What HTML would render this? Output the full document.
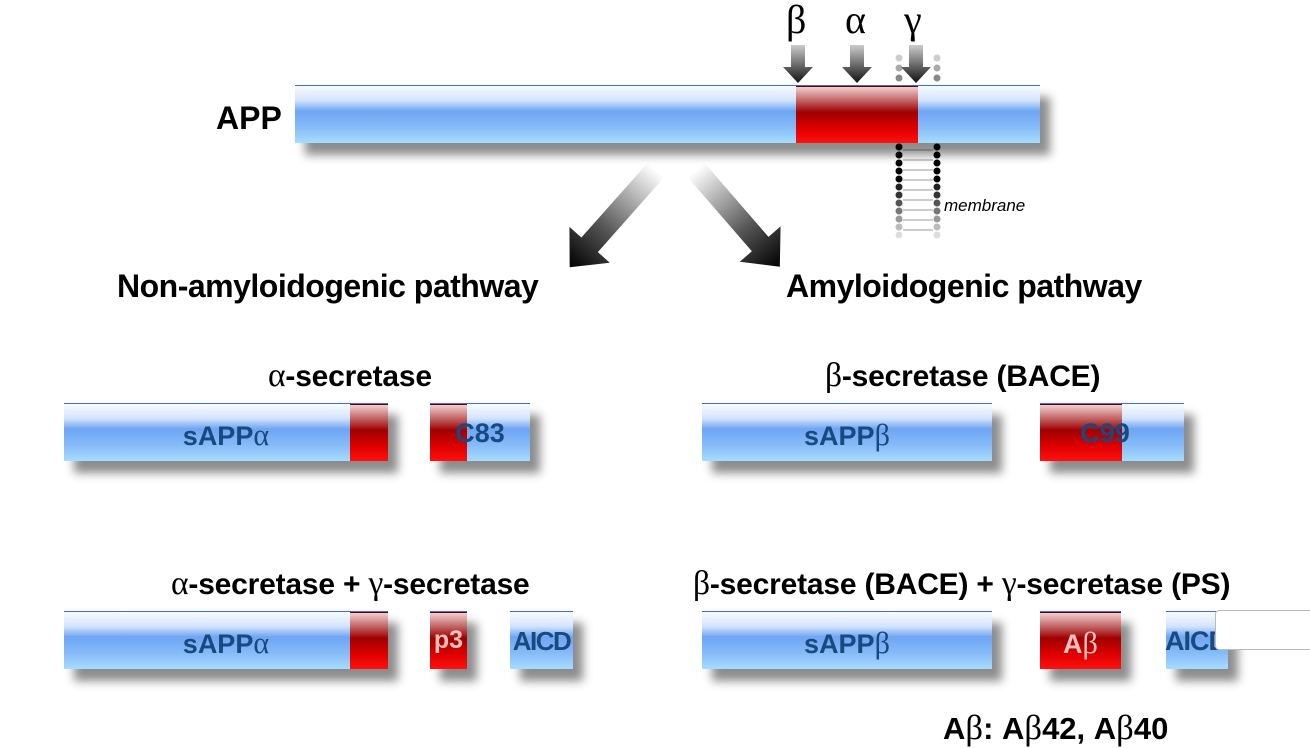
<!DOCTYPE html>
<html><head><meta charset="utf-8"><style>
html,body{margin:0;padding:0;background:#fff;}
body{width:1310px;height:726px;position:relative;overflow:hidden;font-family:"Liberation Sans",sans-serif;}
.t{position:absolute;font-weight:bold;color:#000;white-space:nowrap;}
.g{font-family:"Liberation Serif",serif;font-weight:normal;font-size:1.12em;}
.b{position:absolute;height:58px;box-shadow:10px 12px 9px rgba(0,0,0,.45);
background:linear-gradient(to bottom,#f8fbff 0%,#d4e4fc 25%,#6fa5f2 44%,#84b9f8 70%,#a6dcff 100%);border-top:1px solid #3d6fd8;box-sizing:border-box;}
.r{position:absolute;top:0;bottom:0;background:linear-gradient(to bottom,#f0d0d0 0%,#c06060 25%,#a00000 45%,#e00000 75%,#ff1010 100%);border-top:1px solid #600;}
.lab{position:absolute;left:0;right:0;top:14px;text-align:center;font-weight:bold;font-size:27px;color:#164a80;}
</style></head><body>

<svg width="1310" height="726" style="position:absolute;left:0;top:0">
<defs>
<linearGradient id="ag" x1="0" y1="0" x2="1" y2="0"><stop offset="0" stop-color="#fff"/><stop offset="0.6" stop-color="#555"/><stop offset="1" stop-color="#000"/></linearGradient>
<linearGradient id="dg" x1="0" y1="0" x2="0" y2="1"><stop offset="0" stop-color="#ccc"/><stop offset="1" stop-color="#111"/></linearGradient>
</defs>
<g>
<circle cx="899" cy="58" r="3.5" fill="#ccc"/><circle cx="937" cy="58" r="3.5" fill="#ccc"/>
<circle cx="899" cy="68" r="3.5" fill="#aaa"/><circle cx="937" cy="68" r="3.5" fill="#aaa"/>
<circle cx="899" cy="78" r="3.5" fill="#888"/><circle cx="937" cy="78" r="3.5" fill="#888"/>
<g stroke="#999" stroke-width="1">
<line x1="903" y1="150" x2="933" y2="150"/><line x1="903" y1="160" x2="933" y2="160"/><line x1="903" y1="170" x2="933" y2="170"/><line x1="903" y1="180" x2="933" y2="180"/><line x1="903" y1="190" x2="933" y2="190"/><line x1="903" y1="200" x2="933" y2="200"/><line x1="903" y1="210" x2="933" y2="210"/><line x1="903" y1="220" x2="933" y2="220"/><line x1="903" y1="230" x2="933" y2="230"/>
</g>
<circle cx="899" cy="147" r="3.5"/><circle cx="937" cy="147" r="3.5"/>
<circle cx="899" cy="155" r="3.5"/><circle cx="937" cy="155" r="3.5"/>
<circle cx="899" cy="163" r="3.5"/><circle cx="937" cy="163" r="3.5"/>
<circle cx="899" cy="171" r="3.5"/><circle cx="937" cy="171" r="3.5"/>
<circle cx="899" cy="179" r="3.5"/><circle cx="937" cy="179" r="3.5"/>
<circle cx="899" cy="187" r="3.5" fill="#222"/><circle cx="937" cy="187" r="3.5" fill="#222"/>
<circle cx="899" cy="195" r="3.5" fill="#333"/><circle cx="937" cy="195" r="3.5" fill="#333"/>
<circle cx="899" cy="203" r="3.5" fill="#555"/><circle cx="937" cy="203" r="3.5" fill="#555"/>
<circle cx="899" cy="211" r="3.5" fill="#777"/><circle cx="937" cy="211" r="3.5" fill="#777"/>
<circle cx="899" cy="219" r="3.5" fill="#999"/><circle cx="937" cy="219" r="3.5" fill="#999"/>
<circle cx="899" cy="227" r="3.5" fill="#bbb"/><circle cx="937" cy="227" r="3.5" fill="#bbb"/>
<circle cx="899" cy="235" r="3.5" fill="#ddd"/><circle cx="937" cy="235" r="3.5" fill="#ddd"/>
</g>
<g fill="url(#dg)">
<polygon points="791,45 805,45 805,67 813,67 798,83 783,67 791,67"/>
<polygon points="850,45 864,45 864,67 872,67 857,83 842,67 850,67"/>
<polygon points="909,45 923,45 923,67 931,67 916,83 901,67 909,67"/>
</g>
<g transform="translate(656,170) rotate(131.6)"><polygon points="0,-11 100,-11 100,-27 130,0 100,27 100,11 0,11" fill="url(#ag)"/></g>
<g transform="translate(696,170) rotate(49.1)"><polygon points="0,-11 98,-11 98,-27 128,0 98,27 98,11 0,11" fill="url(#ag)"/></g>
</svg>

<div class="t" style="left:216px;top:100px;font-size:32px">APP</div>
<div class="t" style="left:786px;top:-4px;font-size:40px;font-family:'Liberation Serif',serif;font-weight:normal">β</div>
<div class="t" style="left:845px;top:-4px;font-size:40px;font-family:'Liberation Serif',serif;font-weight:normal">α</div>
<div class="t" style="left:904px;top:-4px;font-size:40px;font-family:'Liberation Serif',serif;font-weight:normal">γ</div>

<div class="b" style="left:295px;top:85px;width:745px;"><div class="r" style="left:501px;width:122px"></div></div>
<div class="t" style="left:944px;top:196px;font-size:17px;font-weight:normal;font-style:italic">membrane</div>

<div class="t" style="left:117px;top:268px;font-size:32px;letter-spacing:-0.5px">Non-amyloidogenic pathway</div>
<div class="t" style="left:786px;top:268px;font-size:32px;letter-spacing:-0.5px">Amyloidogenic pathway</div>

<div class="t" style="left:268px;top:357px;font-size:30px;letter-spacing:-0.2px"><span class="g">α</span>-secretase</div>
<div class="t" style="left:825px;top:357px;font-size:30px;letter-spacing:-0.2px"><span class="g">β</span>-secretase (BACE)</div>

<div class="b" style="left:64px;top:403px;width:324px"><div class="r" style="left:286px;width:38px"></div><div class="lab">sAPP<span class="g">α</span></div></div>
<div class="b" style="left:430px;top:403px;width:100px"><div class="r" style="left:0;width:37px"></div><div class="lab">C83</div></div>
<div class="b" style="left:702px;top:403px;width:290px"><div class="lab">sAPP<span class="g">β</span></div></div>
<div class="b" style="left:1040px;top:403px;width:144px"><div class="r" style="left:0;width:82px"></div><div class="lab" style="left:-14px">C99</div></div>

<div class="t" style="left:171px;top:565px;font-size:30px;letter-spacing:-0.2px"><span class="g">α</span>-secretase + <span class="g">γ</span>-secretase</div>
<div class="t" style="left:693px;top:565px;font-size:30px;letter-spacing:-0.2px"><span class="g">β</span>-secretase (BACE) + <span class="g">γ</span>-secretase (PS)</div>

<div class="b" style="left:64px;top:611px;width:324px"><div class="r" style="left:286px;width:38px"></div><div class="lab">sAPP<span class="g">α</span></div></div>
<div class="b" style="left:430px;top:611px;width:37px"><div class="r" style="left:0;width:37px"></div><div class="lab" style="color:#f3c0c0;font-size:25px;left:-4px;right:-4px">p3</div></div>
<div class="b" style="left:510px;top:611px;width:63px"><div class="lab" style="font-size:26px;letter-spacing:-1.5px;left:-4px;right:-4px">AICD</div></div>
<div class="b" style="left:702px;top:611px;width:290px"><div class="lab">sAPP<span class="g">β</span></div></div>
<div class="b" style="left:1040px;top:611px;width:81px"><div class="r" style="left:0;width:81px"></div><div class="lab" style="color:#f3c0c0">A<span class="g">β</span></div></div>
<div class="b" style="left:1166px;top:611px;width:62px"><div class="lab" style="left:-1px;right:auto;text-align:left;font-size:27px;letter-spacing:-1px">AICD</div></div>
<div style="position:absolute;left:1215px;top:610px;width:110px;height:40px;background:#fff;border:1px solid #bbb;border-radius:4px;box-sizing:border-box"></div>

<div class="t" style="left:943px;top:708px;font-size:31px">A<span class="g">β</span>: A<span class="g">β</span>42, A<span class="g">β</span>40</div>
</body></html>
